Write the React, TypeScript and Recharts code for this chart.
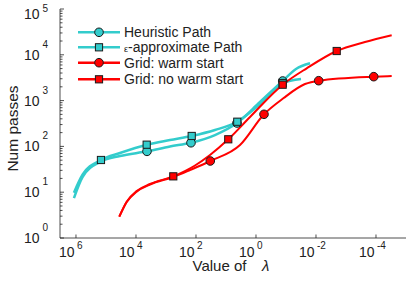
import React from 'react';
import { LineChart, Line, XAxis, YAxis } from 'recharts';

// lambda values (x) and number of passes (y)
const HEUR_LAMBDA = [1.17e6, 5.98e5, 1.47e5, 3.41e4, 4.3e3, 736, 147, 23.3, 4.3, 0.736, 0.129, 0.0464, 0.0158];
const HEUR_PASSES = [7.4, 21.5, 46.8, 61.7, 78, 99.5, 120, 177, 324, 932, 2680, 4900, 6520];
const HEUR_MARKS = [4, 6, 8, 10];

const EPS_LAMBDA = [1.17e6, 5.98e5, 1.47e5, 3.41e4, 4.4e3, 736, 139, 23.3, 4.2, 0.736, 0.129, 0.0316];
const EPS_PASSES = [9.75, 24.3, 50.5, 71.8, 109, 138, 169, 228, 346, 843, 2420, 2960];
const EPS_MARKS = [2, 4, 6, 8, 10];

const WARM_LAMBDA = [3.6e4, 2.04e4, 9.5e3, 3.41e3, 571, 158, 33.4, 3.41, 0.541, 0.123, 0.0233, 8.13e-3, 1.19e-4, 3.0e-5];
const WARM_PASSES = [2.92, 6.1, 10.3, 14.7, 21.5, 30.5, 48, 107, 502, 1122, 2300, 2720, 3330, 3440];
const WARM_MARKS = [6, 8, 11, 12];

const COLD_LAMBDA = [3.6e4, 2.04e4, 9.5e3, 3.41e3, 571, 108, 34.1, 8.4, 1.58, 0.129, 0.0204, 2.04e-3, 2.33e-4, 3.0e-5];
const COLD_PASSES = [2.92, 6.2, 10.6, 15.1, 22.2, 38.3, 65, 143, 439, 2224, 5070, 12100, 19000, 26700];
const COLD_MARKS = [4, 7, 9, 11];

const X_TICKS = [1e6, 1e4, 1e2, 1, 1e-2, 1e-4];
const X_TICK_EXP = ['6', '4', '2', '0', '-2', '-4'];
const Y_MAJOR = [1, 10, 100, 1e3, 1e4, 1e5];
const Y_TICK_EXP = ['0', '1', '2', '3', '4', '5'];

const CYAN = '#33CCCC';
const RED = '#FF0000';
const EDGE = '#1a1a1a';
const TEXT = '#222222';
const FONT = '"Liberation Sans", Arial, Helvetica, sans-serif';

const build = (xs: number[], ys: number[], marks: number[]) =>
    xs.map((x, i) => ({ lambda: x, passes: ys[i], mark: marks.includes(i) }));

const heurData = build(HEUR_LAMBDA, HEUR_PASSES, HEUR_MARKS);
const epsData = build(EPS_LAMBDA, EPS_PASSES, EPS_MARKS);
const warmData = build(WARM_LAMBDA, WARM_PASSES, WARM_MARKS);
const coldData = build(COLD_LAMBDA, COLD_PASSES, COLD_MARKS);

// minor ticks 2..9 per decade on the y axis
const yTicks: number[] = [];
Y_MAJOR.forEach((m, k) => {
    yTicks.push(m);
    if (k < Y_MAJOR.length - 1) for (let j = 2; j < 10; j++) yTicks.push(m * j);
});

const Marker = ({ shape, cx, cy, fill }: any) =>
    shape === 'circle' ? (
        <circle cx={cx} cy={cy} r={4.3} fill={fill} stroke={EDGE} strokeWidth={1} />
    ) : (
        <rect x={cx - 3.6} y={cy - 3.6} width={7.2} height={7.2} fill={fill} stroke={EDGE} strokeWidth={1} />
    );

const makeDot = (shape: string, fill: string) => (props: any) => {
    const { cx, cy, index, payload } = props;
    if (!payload || !payload.mark) return <g key={`n-${index}`} />;
    return <Marker key={`m-${index}`} shape={shape} cx={cx} cy={cy} fill={fill} />;
};

const YTick = ({ x, y, payload }: any) => {
    const idx = Y_MAJOR.findIndex((v) => Math.abs(v - payload.value) < v * 1e-6);
    const major = idx >= 0;
    // top label is pushed down so it stays inside the figure
    const top = idx === Y_MAJOR.length - 1;
    return (
        <g>
            <line x1={x} y1={y} x2={x + (major ? 4 : 2.5)} y2={y} stroke={TEXT} strokeWidth={0.8} />
            {major && (
                <g fontFamily={FONT} fill={TEXT}>
                    <text x={x - 20.5} y={y + (top ? 9.5 : 5)} fontSize={14} textAnchor="end">10</text>
                    <text x={x - 17.5} y={y + (top ? 3 : -7)} fontSize={10}>{Y_TICK_EXP[idx]}</text>
                </g>
            )}
        </g>
    );
};

const XTick = ({ x, y, payload }: any) => {
    const idx = X_TICKS.findIndex((v) => Math.abs(v - payload.value) < v * 1e-6);
    return (
        <g>
            <line x1={x} y1={y} x2={x} y2={y - 3.5} stroke={TEXT} strokeWidth={0.8} />
            <g fontFamily={FONT} fill={TEXT}>
                <text x={x - 1.5} y={y + 19} fontSize={14} textAnchor="end">10</text>
                <text x={x + 1} y={y + 11} fontSize={10}>{X_TICK_EXP[idx]}</text>
            </g>
        </g>
    );
};

const LEGEND = [
    { label: 'Heuristic Path', color: CYAN, shape: 'circle', y: 32.3 },
    { label: 'ε-approximate Path', color: CYAN, shape: 'square', y: 47.3 },
    { label: 'Grid: warm start', color: RED, shape: 'circle', y: 62.7 },
    { label: 'Grid: no warm start', color: RED, shape: 'square', y: 79.3 },
];

const Overlay = () => (
    <svg width={407} height={286} style={{ position: 'absolute', left: 0, top: 0, pointerEvents: 'none' }}>
        <g fontFamily={FONT} fill={TEXT}>
            <text x={12.5} y={128.5} fontSize={15.5} textAnchor="middle" dominantBaseline="central" transform="rotate(-90 12.5 128.5)">
                Num passes
            </text>
            <text x={192.5} y={271} fontSize={15}>Value of</text>
            <text x={262} y={271} fontSize={15} fontStyle="italic">λ</text>
        </g>
        {LEGEND.map((l) => (
            <g key={l.label}>
                <line x1={78} y1={l.y} x2={120} y2={l.y} stroke={l.color} strokeWidth={2.5} />
                <Marker shape={l.shape} cx={99} cy={l.y} fill={l.color} />
                {l.label.startsWith('ε') ? (
                    <text x={124} y={l.y + 4.8} fontFamily={FONT} fontSize={14} fill={TEXT}>
                        <tspan fontSize={9}>ε</tspan>-approximate Path
                    </text>
                ) : (
                    <text x={124} y={l.y + 5} fontFamily={FONT} fontSize={14} fill={TEXT}>{l.label}</text>
                )}
            </g>
        ))}
    </svg>
);

export default function App() {
    return (
        <div style={{ position: 'absolute', left: 0, top: 0, width: 407, height: 286, background: '#fff' }}>
            <LineChart width={407} height={286} margin={{ top: 9, right: 1, bottom: 0, left: 0 }}>
                <XAxis
                    type="number"
                    dataKey="lambda"
                    scale="log"
                    domain={[1e-5, 3.41e6]}
                    reversed
                    allowDataOverflow
                    ticks={X_TICKS}
                    interval={0}
                    tick={<XTick />}
                    tickLine={false}
                    tickSize={0}
                    tickMargin={0}
                    height={48}
                    axisLine={{ stroke: TEXT, strokeWidth: 0.8 }}
                />
                <YAxis
                    type="number"
                    dataKey="passes"
                    scale="log"
                    domain={[1, 1e5]}
                    allowDataOverflow
                    ticks={yTicks}
                    interval={0}
                    tick={<YTick />}
                    tickLine={false}
                    tickSize={0}
                    tickMargin={0}
                    width={60}
                    axisLine={{ stroke: TEXT, strokeWidth: 0.8 }}
                />
                <Line data={heurData} dataKey="passes" type="monotone" stroke={CYAN} strokeWidth={2.5}
                    dot={makeDot('circle', CYAN)} activeDot={false} isAnimationActive={false} />
                <Line data={epsData} dataKey="passes" type="monotone" stroke={CYAN} strokeWidth={2.5}
                    dot={makeDot('square', CYAN)} activeDot={false} isAnimationActive={false} />
                <Line data={warmData} dataKey="passes" type="monotone" stroke={RED} strokeWidth={2}
                    dot={makeDot('circle', RED)} activeDot={false} isAnimationActive={false} />
                <Line data={coldData} dataKey="passes" type="monotone" stroke={RED} strokeWidth={2}
                    dot={makeDot('square', RED)} activeDot={false} isAnimationActive={false} />
            </LineChart>
            <Overlay />
        </div>
    );
}
